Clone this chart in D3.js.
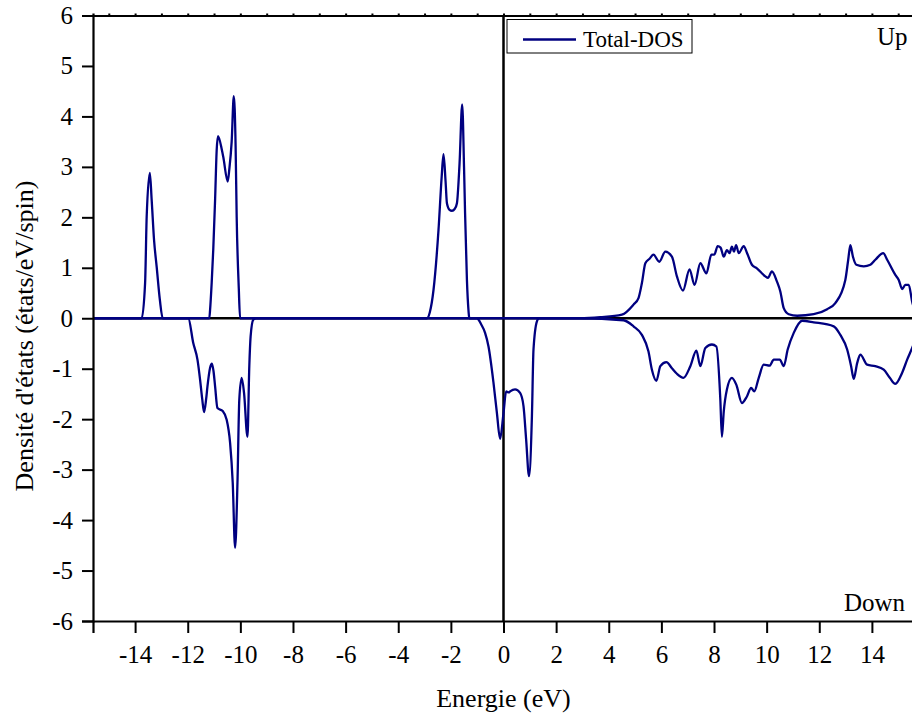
<!DOCTYPE html>
<html>
<head>
<meta charset="utf-8">
<script src="https://cdn.jsdelivr.net/npm/d3@7"></script>
<style>
  html, body { margin: 0; padding: 0; background: #fff; }
  svg text { font-family: 'Liberation Serif', 'DejaVu Serif', serif; fill: #000; }
</style>
</head>
<body>
<svg id="chart" width="912" height="719"></svg>
<script>
// spin up channel
const upEnergy = [-15.6, -13.75, -13.62, -13.56, -13.44, -13.37, -13.28, -13.18, -13.06, -12.95,
  -11.18, -11.15, -11.09, -11.03, -10.96, -10.90, -10.85, -10.70, -10.65, -10.48, -10.42, -10.33, -10.25, -10.18, -10.14, -10.06, -10.01,
  -2.91, -2.80, -2.66, -2.47, -2.35, -2.28, -2.20, -2.15, -2.05, -1.96, -1.85, -1.77, -1.67, -1.57, -1.50, -1.46, -1.39, -1.33, -1.30,
  2.90, 3.68, 4.50, 4.94, 5.13, 5.26, 5.39, 5.55, 5.70, 5.92, 6.15, 6.40, 6.59, 6.82, 7.07, 7.26, 7.48, 7.71, 7.90, 8.01, 8.14, 8.25,
  8.37, 8.49, 8.59, 8.68, 8.76, 8.84, 8.94, 9.13, 9.25, 9.44, 9.63, 9.95, 10.05, 10.20, 10.39, 10.52, 10.65, 10.84, 11.16, 11.79,
  12.30, 12.61, 12.99, 13.10, 13.18, 13.28, 13.41, 13.69, 13.94, 14.13, 14.43, 14.58, 14.89, 15.02, 15.15, 15.27, 15.40, 15.53, 15.6];
const upDos = [0, 0, 0.70, 2.01, 2.88, 2.34, 1.55, 1.02, 0.37, 0,
  0, 0.17, 0.70, 1.36, 2.35, 3.33, 3.61, 3.33, 3.20, 2.71, 2.95, 3.50, 4.40, 3.40, 2.01, 0.60, 0,
  0, 0.12, 0.56, 1.75, 2.80, 3.25, 2.70, 2.28, 2.15, 2.13, 2.17, 2.28, 3.07, 4.24, 3.00, 2.08, 0.76, 0.15, 0,
  0, 0.02, 0.07, 0.27, 0.40, 0.70, 1.09, 1.18, 1.26, 1.12, 1.32, 1.22, 0.83, 0.55, 0.97, 0.66, 1.09, 0.89, 1.26, 1.26, 1.43, 1.40,
  1.22, 1.35, 1.29, 1.42, 1.32, 1.45, 1.29, 1.43, 1.30, 1.06, 0.99, 0.83, 0.80, 0.93, 0.73, 0.53, 0.20, 0.08, 0.05, 0.08,
  0.18, 0.30, 0.76, 1.16, 1.45, 1.22, 1.06, 1.03, 1.06, 1.16, 1.29, 1.16, 0.86, 0.76, 0.58, 0.66, 0.66, 0.33, 0.20];

// spin down channel
const downEnergy = [-15.6, -11.98, -11.79, -11.63, -11.53, -11.45, -11.38, -11.30, -11.25, -11.15, -11.08, -11.02, -10.96, -10.87,
  -10.67, -10.52, -10.39, -10.29, -10.20, -10.11, -10.04, -9.95, -9.86, -9.73, -9.66, -9.61, -9.51, -9.40,
  -1.01, -0.85, -0.70, -0.57, -0.38, -0.25, -0.13, 0.0, 0.10, 0.20, 0.25, 0.44, 0.63, 0.76, 0.86, 0.97, 1.08, 1.14, 1.27, 1.35,
  2.92, 4.56, 4.94, 5.26, 5.51, 5.64, 5.81, 5.96, 6.19, 6.40, 6.59, 6.84, 7.10, 7.33, 7.48, 7.67, 7.92, 8.09, 8.24, 8.30, 8.37,
  8.49, 8.68, 8.85, 9.06, 9.25, 9.41, 9.53, 9.70, 9.89, 10.11, 10.27, 10.50, 10.65, 10.80, 11.03, 11.35, 11.79, 12.55, 12.80,
  13.06, 13.21, 13.31, 13.44, 13.56, 13.82, 14.13, 14.45, 14.68, 14.89, 15.15, 15.34, 15.53, 15.6];
const downDos = [0, 0, -0.49, -0.82, -1.22, -1.60, -1.86, -1.60, -1.35, -0.98, -0.90, -1.05, -1.35, -1.78,
  -1.84, -2.01, -2.47, -3.26, -4.55, -3.26, -1.61, -1.18, -1.48, -2.35, -0.95, -0.36, -0.03, 0,
  0, -0.12, -0.29, -0.56, -1.28, -1.88, -2.39, -1.88, -1.45, -1.47, -1.45, -1.41, -1.48, -1.74, -2.40, -3.13, -1.94, -0.62, -0.06, 0,
  0, -0.04, -0.16, -0.33, -0.66, -1.02, -1.24, -0.95, -0.87, -0.99, -1.10, -1.18, -0.95, -0.64, -0.95, -0.59, -0.52, -0.56, -1.61, -2.35, -1.85,
  -1.41, -1.18, -1.32, -1.68, -1.55, -1.38, -1.45, -1.18, -0.92, -0.94, -0.82, -0.82, -0.95, -0.62, -0.29, -0.05, -0.08, -0.16, -0.33,
  -0.62, -0.95, -1.20, -0.89, -0.72, -0.92, -0.95, -1.02, -1.18, -1.30, -1.08, -0.82, -0.59, -0.50];

const xTicks = [-14, -12, -10, -8, -6, -4, -2, 0, 2, 4, 6, 8, 10, 12, 14];
const yTicks = [-6, -5, -4, -3, -2, -1, 0, 1, 2, 3, 4, 5, 6];
const xDomain = [-15.6, 15.6];
const yDomain = [-6, 6];

const margin = { top: 15.5, left: 93, bottom: 98, right: -2 };
const width = 912 - margin.left - margin.right;
const height = 719 - margin.top - margin.bottom;
const lineColor = '#000080';
const serif = "'Liberation Serif', 'DejaVu Serif', serif";

const svg = d3.select('#chart');
const g = svg.append('g').attr('transform', `translate(${margin.left},${margin.top})`);

const x = d3.scaleLinear().domain(xDomain).range([0, width]);
const y = d3.scaleLinear().domain(yDomain).range([height, 0]);

g.append('clipPath').attr('id', 'plot-clip')
  .append('rect').attr('width', width).attr('height', height);

const plot = g.append('g').attr('clip-path', 'url(#plot-clip)');

// zero lines
plot.append('line')
  .attr('x1', 0).attr('x2', width)
  .attr('y1', y(0)).attr('y2', y(0))
  .attr('stroke', '#000').attr('stroke-width', 2.5);
plot.append('line')
  .attr('x1', x(0)).attr('x2', x(0))
  .attr('y1', 0).attr('y2', height)
  .attr('stroke', '#000').attr('stroke-width', 2.5);

const line = d3.line()
  .x(d => x(d[0]))
  .y(d => y(d[1]))
  .curve(d3.curveMonotoneX);

const upData = upEnergy.map((e, i) => [e, upDos[i]]);
const downData = downEnergy.map((e, i) => [e, downDos[i]]);

[upData, downData].forEach(data => {
  plot.append('path')
    .datum(data)
    .attr('fill', 'none')
    .attr('stroke', lineColor)
    .attr('stroke-width', 2.3)
    .attr('stroke-linejoin', 'round')
    .attr('d', line);
});

// axes
const minorX = d3.range(-15, 16, 2);
const minorY = d3.range(-5.5, 6, 1);

const xAxis = g.append('g').attr('transform', `translate(0,${height})`);
xAxis.call(d3.axisBottom(x).tickValues(minorX).tickSize(7).tickFormat(''));
xAxis.call(d3.axisBottom(x).tickValues(xTicks).tickSize(12).tickPadding(12).tickFormat(d3.format('d')));

const yAxis = g.append('g');
yAxis.call(d3.axisLeft(y).tickValues(minorY).tickSize(6).tickFormat(''));
yAxis.call(d3.axisLeft(y).tickValues(yTicks).tickSize(11).tickPadding(9).tickFormat(d3.format('d')));

const topAxis = g.append('g');
topAxis.call(d3.axisTop(x).tickValues(d3.range(-15, 16, 1)).tickSize(2).tickFormat(''));

[xAxis, yAxis, topAxis].forEach(a => {
  a.attr('font-family', serif);
  a.selectAll('.domain').attr('stroke', '#000').attr('stroke-width', 2.2);
  a.selectAll('.tick line').attr('stroke', '#000').attr('stroke-width', 2);
  a.selectAll('.tick text')
    .attr('fill', '#000')
    .attr('font-family', serif)
    .attr('font-size', 25);
});
// plain hyphen as in the original instead of the unicode minus
xAxis.selectAll('.tick text').text(d => String(d));
yAxis.selectAll('.tick text').text(d => String(d));

// axis titles
svg.append('text')
  .attr('x', 503.5).attr('y', 707)
  .attr('text-anchor', 'middle')
  .attr('font-family', serif)
  .attr('font-size', 26)
  .text('Energie (eV)');

svg.append('text')
  .attr('transform', 'translate(33,336) rotate(-90)')
  .attr('text-anchor', 'middle')
  .attr('font-family', serif)
  .attr('font-size', 26)
  .text("Densité d'états (états/eV/spin)");

// legend
const legend = svg.append('g');
legend.append('rect')
  .attr('x', 507).attr('y', 19.5).attr('width', 185).attr('height', 33.5)
  .attr('fill', '#fff').attr('stroke', '#000').attr('stroke-width', 1);
legend.append('line')
  .attr('x1', 523).attr('x2', 576).attr('y1', 39.5).attr('y2', 39.5)
  .attr('stroke', lineColor).attr('stroke-width', 2.5);
legend.append('text')
  .attr('x', 583).attr('y', 47)
  .attr('font-family', serif)
  .attr('font-size', 23)
  .text('Total-DOS');

svg.append('text')
  .attr('x', 877).attr('y', 45)
  .attr('font-family', serif)
  .attr('font-size', 25)
  .text('Up');

svg.append('text')
  .attr('x', 844).attr('y', 611)
  .attr('font-family', serif)
  .attr('font-size', 25)
  .text('Down');
</script>
</body>
</html>
